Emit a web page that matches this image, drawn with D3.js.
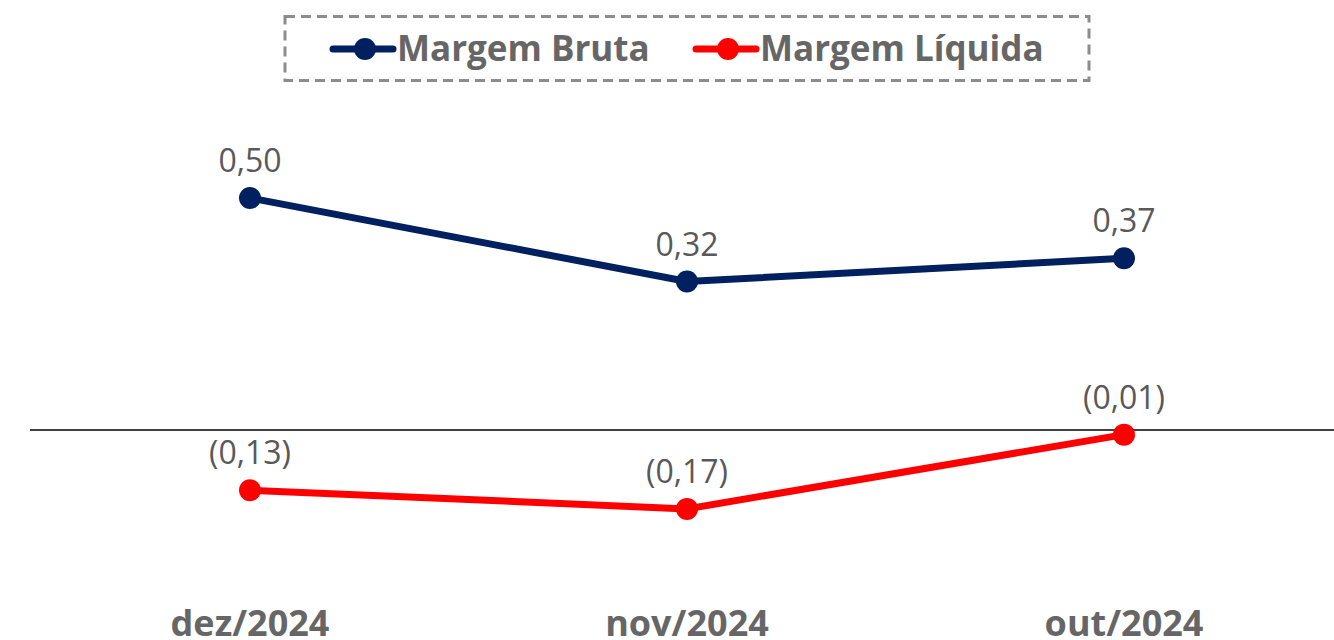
<!DOCTYPE html>
<html>
<head>
<meta charset="utf-8">
<script src="https://cdn.jsdelivr.net/npm/d3@7"></script>
<style>
  body { margin: 0; background: #fff; }
  svg { display: block; font-family: "Open Sans", "Noto Sans", sans-serif; }
</style>
</head>
<body>
<svg width="1334" height="640"></svg>
<script>
var months = ["dez/2024", "nov/2024", "out/2024"];
var margemBruta = [0.50, 0.32, 0.37];
var margemLiquida = [-0.13, -0.17, -0.01];
var seriesNames = ["Margem Bruta", "Margem Líquida"];
var seriesColors = ["#002060", "#FF0000"];

var svg = d3.select("svg"),
    width = +svg.attr("width"),
    height = +svg.attr("height");

var x = d3.scalePoint()
    .domain(months)
    .range([250, 1124]);

var y = d3.scaleLinear()
    .domain([0, 0.5])
    .range([430, 198]);

var fmt = function(v) {
  var s = d3.format(".2f")(Math.abs(v)).replace(".", ",");
  return v < 0 ? "(" + s + ")" : s;
};

// zero line
svg.append("line")
    .attr("x1", 30)
    .attr("x2", width)
    .attr("y1", y(0))
    .attr("y2", y(0))
    .attr("stroke", "#000")
    .attr("stroke-width", 1.5);

// x labels (cut at the bottom edge like the original)
svg.append("g")
  .selectAll("text")
  .data(months)
  .enter().append("text")
    .attr("x", function(d) { return x(d); })
    .attr("y", 636)
    .attr("text-anchor", "middle")
    .attr("fill", "#666")
    .attr("font-weight", "bold")
    .attr("font-size", 36)
    .text(function(d) { return d; });

var line = d3.line()
    .x(function(d, i) { return x(months[i]); })
    .y(function(d) { return y(d); });

[margemBruta, margemLiquida].forEach(function(vals, k) {
  svg.append("path")
      .datum(vals)
      .attr("fill", "none")
      .attr("stroke", seriesColors[k])
      .attr("stroke-width", 7)
      .attr("stroke-linejoin", "round")
      .attr("d", line);

  svg.append("g")
    .selectAll("circle")
    .data(vals)
    .enter().append("circle")
      .attr("cx", function(d, i) { return x(months[i]); })
      .attr("cy", function(d) { return y(d); })
      .attr("r", 11)
      .attr("fill", seriesColors[k]);

  svg.append("g")
    .selectAll("text")
    .data(vals)
    .enter().append("text")
      .attr("x", function(d, i) { return x(months[i]); })
      .attr("y", function(d) { return y(d) - 26; })
      .attr("text-anchor", "middle")
      .attr("fill", "#595959")
      .attr("font-size", 32)
      .text(function(d) { return fmt(d); });
});

// legend
svg.append("rect")
    .attr("x", 285)
    .attr("y", 16.5)
    .attr("width", 804)
    .attr("height", 64)
    .attr("fill", "none")
    .attr("stroke", "#8c8c8c")
    .attr("stroke-width", 3)
    .attr("stroke-dasharray", "10,6");

var legendX = [333, 696];
seriesNames.forEach(function(name, k) {
  var g = svg.append("g").attr("transform", "translate(" + legendX[k] + ",49)");
  g.append("line")
      .attr("x1", 0).attr("x2", 60)
      .attr("stroke", seriesColors[k])
      .attr("stroke-width", 7)
      .attr("stroke-linecap", "round");
  g.append("circle")
      .attr("cx", 32)
      .attr("r", 11)
      .attr("fill", seriesColors[k]);
  g.append("text")
      .attr("x", 64)
      .attr("y", 12)
      .attr("fill", "#666")
      .attr("font-weight", "bold")
      .attr("font-size", 35)
      .text(name);
});
</script>
</body>
</html>
